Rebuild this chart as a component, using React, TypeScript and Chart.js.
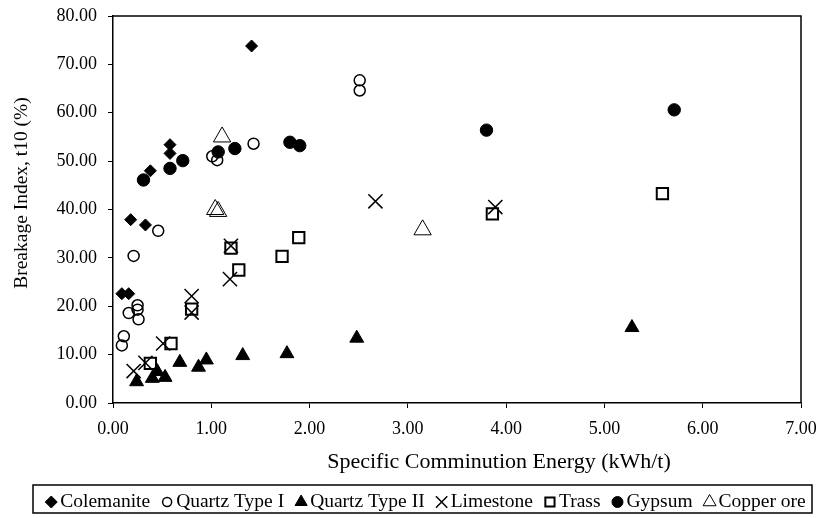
import React, { useEffect, useRef } from 'react';
import { Chart, registerables } from 'chart.js';
import { drawPoint } from 'chart.js/helpers';

Chart.register(...registerables);

// ---- data ----
const colemaniteX = [0.09, 0.16, 0.18, 0.33, 0.38, 0.58, 0.58, 1.41];
const colemaniteY = [22.6, 22.6, 37.9, 36.8, 48.0, 51.6, 53.4, 73.8];

const quartz1X = [0.46, 0.21, 0.25, 0.25, 0.16, 0.26, 0.11, 0.09, 1.01, 1.06, 1.43, 2.51, 2.51];
const quartz1Y = [35.6, 30.4, 20.2, 19.3, 18.6, 17.3, 13.8, 11.9, 51.0, 50.2, 53.6, 66.7, 64.6];

const quartz2X = [0.24, 0.40, 0.45, 0.53, 0.68, 0.87, 0.95, 1.32, 1.77, 2.48, 5.28];
const quartz2Y = [4.4, 5.1, 6.5, 5.3, 8.4, 7.4, 8.9, 9.8, 10.2, 13.4, 15.6];

const limestoneX = [0.21, 0.33, 0.51, 0.80, 0.80, 1.20, 1.19, 2.67, 3.89];
const limestoneY = [6.6, 8.3, 12.3, 22.1, 18.7, 32.5, 25.6, 41.7, 40.5];

const trassX = [0.38, 0.59, 0.80, 1.20, 1.28, 1.72, 1.89, 3.86, 5.59];
const trassY = [8.2, 12.3, 19.4, 32.0, 27.5, 30.3, 34.2, 39.1, 43.3];

const gypsumX = [0.31, 0.58, 0.71, 1.07, 1.24, 1.80, 1.90, 3.80, 5.71];
const gypsumY = [46.1, 48.5, 50.1, 51.9, 52.6, 53.9, 53.2, 56.4, 60.6];

const copperX = [1.11, 1.04, 1.07, 3.15];
const copperY = [55.0, 40.0, 39.6, 35.8];

const seriesNames = ['Colemanite', 'Quartz Type I', 'Quartz Type II', 'Limestone', 'Trass', 'Gypsum', 'Copper ore'];

const xTicks = [0, 1, 2, 3, 4, 5, 6, 7];
const yTicks = [0, 10, 20, 30, 40, 50, 60, 70, 80];

const xTitle = 'Specific Comminution Energy (kWh/t)';
const yTitle = 'Breakage Index, t10 (%)';

const FONT = '"Liberation Serif", "Times New Roman", serif';

const pts = (xs: number[], ys: number[]) => xs.map((x, i) => ({ x, y: ys[i] }));

// marker styles
const styles = [
  { pointStyle: 'rectRot', radius: 6, fill: '#000', border: 1, legendRadius: 6 },
  { pointStyle: 'circle', radius: 5.5, fill: 'rgba(0,0,0,0)', border: 1.5, legendRadius: 4.5 },
  { pointStyle: 'triangle', radius: 8, fill: '#000', border: 1, legendRadius: 7 },
  { pointStyle: 'crossRot', radius: 10, fill: 'rgba(0,0,0,0)', border: 1.5, legendRadius: 8 },
  { pointStyle: 'rect', radius: 8, fill: 'rgba(0,0,0,0)', border: 2, legendRadius: 6.5 },
  { pointStyle: 'circle', radius: 6.2, fill: '#000', border: 1, legendRadius: 5.5 },
  { pointStyle: 'triangle', radius: 10, fill: 'rgba(0,0,0,0)', border: 1, legendRadius: 7.5 },
];

const seriesData = [
  pts(colemaniteX, colemaniteY),
  pts(quartz1X, quartz1Y),
  pts(quartz2X, quartz2Y),
  pts(limestoneX, limestoneY),
  pts(trassX, trassY),
  pts(gypsumX, gypsumY),
  pts(copperX, copperY),
];

const framePlugin = {
  id: 'frameAndLegend',
  afterDraw(chart: any) {
    const { ctx, chartArea } = chart;
    const { left, top, right, bottom } = chartArea;
    ctx.save();
    ctx.strokeStyle = '#000';
    ctx.lineWidth = 1.5;
    ctx.beginPath();
    ctx.moveTo(left, top);
    ctx.lineTo(right, top);
    ctx.lineTo(right, bottom);
    ctx.stroke();

    // axis titles
    ctx.fillStyle = '#000';
    ctx.textAlign = 'center';
    ctx.textBaseline = 'middle';
    ctx.font = `22px ${FONT}`;
    ctx.fillText(xTitle, 499, 462);
    ctx.save();
    ctx.translate(22, 193);
    ctx.rotate(-Math.PI / 2);
    ctx.font = `19.5px ${FONT}`;
    ctx.fillText(yTitle, 0, 0);
    ctx.restore();

    // legend box
    const boxL = 33, boxT = 485, boxR = 812, boxB = 513;
    ctx.lineWidth = 1.5;
    ctx.strokeRect(boxL, boxT, boxR - boxL, boxB - boxT);

    ctx.font = `19.5px ${FONT}`;
    ctx.textBaseline = 'alphabetic';
    ctx.textAlign = 'left';
    const widths = seriesNames.map((t) => ctx.measureText(t).width);
    const gapSym = 9;
    const gapItem = 17;
    const total = 6 + widths.reduce((a, b) => a + b, 0) + seriesNames.length * gapSym + (seriesNames.length - 1) * gapItem;
    let x = 425.5 - total / 2 + 6;
    const symY = 502;
    const textY = 507;
    seriesNames.forEach((name, i) => {
      const s = styles[i];
      ctx.save();
      ctx.fillStyle = s.fill;
      ctx.strokeStyle = '#000';
      ctx.lineWidth = s.border;
      drawPoint(ctx, { pointStyle: s.pointStyle as any, radius: s.legendRadius, rotation: 0, borderWidth: s.border }, x, symY);
      ctx.restore();
      ctx.fillStyle = '#000';
      ctx.fillText(name, x + gapSym, textY);
      x += gapSym + widths[i] + gapItem;
    });
    ctx.restore();
  },
};

export default function App() {
  const canvasRef = useRef<HTMLCanvasElement | null>(null);

  useEffect(() => {
    if (!canvasRef.current) return;
    Chart.defaults.font.family = FONT;
    Chart.defaults.color = '#000';
    const chart = new Chart(canvasRef.current, {
      type: 'scatter',
      data: {
        datasets: seriesNames.map((name, i) => ({
          label: name,
          data: seriesData[i],
          order: -i,
          pointStyle: styles[i].pointStyle as any,
          pointRadius: styles[i].radius,
          pointHoverRadius: styles[i].radius,
          pointBackgroundColor: styles[i].fill,
          pointBorderColor: '#000',
          pointBorderWidth: styles[i].border,
          showLine: false,
        })),
      },
      options: {
        animation: false,
        responsive: true,
        maintainAspectRatio: false,
        layout: { padding: { top: 16, right: 19, bottom: 33, left: 0 } },
        plugins: {
          legend: { display: false },
          tooltip: { enabled: false },
        },
        scales: {
          x: {
            type: 'linear',
            min: 0,
            max: 7,
            afterBuildTicks: (scale: any) => {
              scale.ticks = xTicks.map((v) => ({ value: v }));
            },
            afterFit: (scale: any) => {
              scale.height = 82;
              scale.paddingLeft = 0;
              scale.paddingRight = 0;
            },
            ticks: {
              font: { size: 18 },
              color: '#000',
              padding: 10,
              maxRotation: 0,
              callback: (v: any) => Number(v).toFixed(2),
            },
            grid: { display: true, drawOnChartArea: false, drawTicks: true, tickLength: 5, color: '#000', lineWidth: 1 },
            border: { display: true, color: '#000', width: 1.5 },
            title: { display: false, text: xTitle },
          },
          y: {
            type: 'linear',
            min: 0,
            max: 80,
            afterBuildTicks: (scale: any) => {
              scale.ticks = yTicks.map((v) => ({ value: v }));
            },
            afterFit: (scale: any) => {
              scale.width = 113;
              scale.paddingTop = 0;
              scale.paddingBottom = 0;
            },
            ticks: {
              font: { size: 18 },
              color: '#000',
              padding: 11,
              callback: (v: any) => Number(v).toFixed(2),
            },
            grid: { display: true, drawOnChartArea: false, drawTicks: true, tickLength: 5, color: '#000', lineWidth: 1 },
            border: { display: true, color: '#000', width: 1.5 },
            title: { display: false, text: yTitle },
          },
        },
      },
      plugins: [framePlugin],
    });
    return () => chart.destroy();
  }, []);

  return (
    <div style={{ position: 'fixed', left: 0, top: 0, width: 820, height: 518, background: '#fff' }}>
      <canvas ref={canvasRef} />
    </div>
  );
}
